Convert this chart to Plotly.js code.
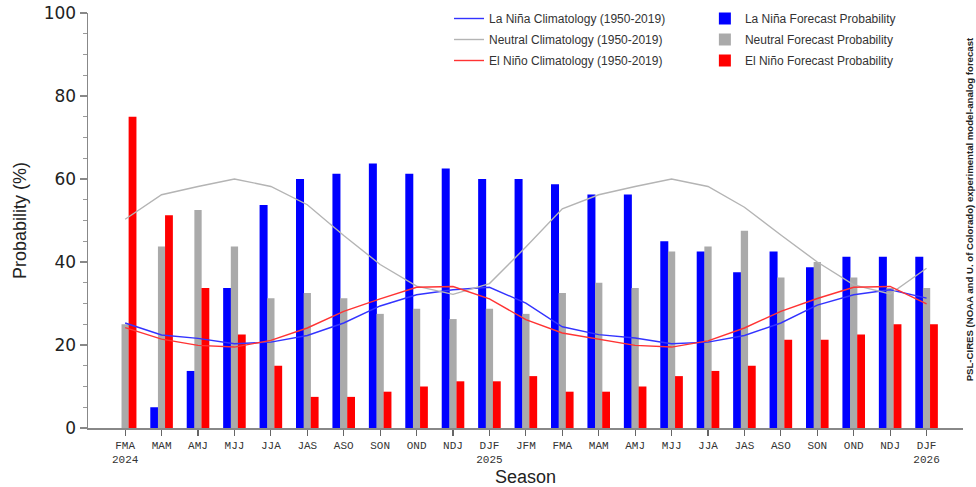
<!DOCTYPE html>
<html>
<head>
<meta charset="utf-8">
<script src="https://cdn.plot.ly/plotly-3.0.1.min.js"></script>
<style>html,body{margin:0;padding:0;background:#fff;}#chart{width:976px;height:487px;}</style>
</head>
<body>
<div id="chart"></div>
<script>
const seasons = ["FMA<br>2024","MAM","AMJ","MJJ","JJA","JAS","ASO","SON","OND","NDJ","DJF<br>2025","JFM","FMA","MAM","AMJ","MJJ","JJA","JAS","ASO","SON","OND","NDJ","DJF<br>2026"];
const laninaForecast  = [0, 5, 13.75, 33.75, 53.75, 60, 61.25, 63.75, 61.25, 62.5, 60, 60, 58.75, 56.25, 56.25, 45, 42.5, 37.5, 42.5, 38.75, 41.25, 41.25, 41.25];
const neutralForecast = [25, 43.75, 52.5, 43.75, 31.25, 32.5, 31.25, 27.5, 28.75, 26.25, 28.75, 27.5, 32.5, 35, 33.75, 42.5, 43.75, 47.5, 36.25, 40, 36.25, 33.75, 33.75];
const elninoForecast  = [75, 51.25, 33.75, 22.5, 15, 7.5, 7.5, 8.75, 10, 11.25, 11.25, 12.5, 8.75, 8.75, 10, 12.5, 13.75, 15, 21.25, 21.25, 22.5, 25, 25];
const laninaClim  = [25.3, 22.4, 21.6, 20.3, 20.7, 22.3, 25.3, 29.4, 32.1, 33.3, 33.9, 30.1, 24.4, 22.5, 21.7, 20.3, 20.7, 22.3, 25.3, 29.6, 32.1, 33.3, 31.3];
const neutralClim = [50.3, 56.2, 58.2, 60.0, 58.2, 53.8, 46.4, 39.4, 34.2, 32.2, 34.8, 43.6, 52.8, 56.2, 58.2, 60.0, 58.2, 53.2, 46.5, 40.0, 34.5, 32.3, 38.5];
const elninoClim  = [24.2, 21.4, 19.9, 19.5, 21.1, 24.1, 28.1, 31.1, 33.9, 34.1, 31.1, 26.1, 22.9, 21.4, 19.9, 19.5, 21.0, 24.1, 28.1, 31.2, 33.9, 34.1, 29.9];
const xIdx = seasons.map((s, i) => i);

const lgFont = {family: "Liberation Sans, Arial, sans-serif", size: 12, color: "#333"};
const traces = [
  {type: "bar", x: xIdx, y: laninaForecast, name: "La Niña Forecast Probability", marker: {color: "#0000ff", line: {width: 0}}, offset: -0.31, width: 0.22, legend: "legend2", legendgroup: "b1"},
  {type: "bar", x: xIdx, y: neutralForecast, name: "Neutral Forecast Probability", marker: {color: "#aaaaaa", line: {width: 0}}, offset: -0.1, width: 0.2, legend: "legend2", legendgroup: "b2"},
  {type: "bar", x: xIdx, y: elninoForecast, name: "El Niño Forecast Probability", marker: {color: "#ff0000", line: {width: 0}}, offset: 0.095, width: 0.215, legend: "legend2", legendgroup: "b3"},
  {type: "scatter", mode: "lines", x: xIdx, y: laninaClim, name: "La Niña Climatology (1950-2019)", line: {color: "#3333ff", width: 1.4}, legend: "legend", legendgroup: "l1"},
  {type: "scatter", mode: "lines", x: xIdx, y: neutralClim, name: "Neutral Climatology (1950-2019)", line: {color: "#b4b4b4", width: 1.4}, legend: "legend", legendgroup: "l2"},
  {type: "scatter", mode: "lines", x: xIdx, y: elninoClim, name: "El Niño Climatology (1950-2019)", line: {color: "#ff3333", width: 1.4}, legend: "legend", legendgroup: "l3"}
];

const layout = {
  width: 976, height: 487,
  margin: {l: 88, r: 13, t: 4, b: 59},
  paper_bgcolor: "#fff", plot_bgcolor: "#fff",
  barmode: "overlay",
  showlegend: true,
  xaxis: {
    range: [-1.02, 23.0], tickmode: "array", tickvals: xIdx, ticktext: seasons,
    showgrid: false, zeroline: false, showline: true, linecolor: "#888", linewidth: 1.5,
    ticks: "outside", ticklen: 6, tickcolor: "#666", tickwidth: 1.2,
    tickfont: {family: "Liberation Mono, Courier New, monospace", size: 11, color: "#333"},
    tickangle: 0,
    title: {text: "Season", font: {family: "Liberation Sans, Arial, sans-serif", size: 18, color: "#222"}, standoff: 8},
    automargin: false
  },
  yaxis: {
    range: [0, 100], dtick: 20, domain: [0, 0.9788], showgrid: false, zeroline: false,
    showline: true, linecolor: "#888", linewidth: 1.5,
    ticks: "outside", ticklen: 7, tickcolor: "#888", tickwidth: 1.2,
    minor: {dtick: 5, ticks: "outside", ticklen: 4, tickcolor: "#999", showgrid: false},
    tickfont: {family: "DejaVu Sans, sans-serif", size: 17, color: "#222"},
    title: {text: "Probability (%)", font: {family: "Liberation Sans, Arial, sans-serif", size: 18, color: "#222"}, standoff: 12},
    automargin: false
  },
  legend: {x: 0.4126, y: 1.0, xanchor: "left", yanchor: "top", bgcolor: "rgba(0,0,0,0)", font: lgFont, tracegroupgap: 2, traceorder: "grouped"},
  legend2: {x: 0.705, y: 1.0, xanchor: "left", yanchor: "top", bgcolor: "rgba(0,0,0,0)", font: lgFont, tracegroupgap: 2, traceorder: "grouped"},
  annotations: [{
    text: "<b>PSL-CIRES (NOAA and U. of Colorado) experimental model-analog forecast</b>",
    xref: "paper", yref: "paper", x: 1.0072, y: 0.5165, xanchor: "center", yanchor: "middle",
    textangle: -90, showarrow: false, borderpad: 0,
    font: {family: "Liberation Sans, Arial, sans-serif", size: 9.6, color: "#222"}
  }]
};

Plotly.newPlot("chart", traces, layout, {displayModeBar: false, staticPlot: true});
</script>
</body>
</html>
